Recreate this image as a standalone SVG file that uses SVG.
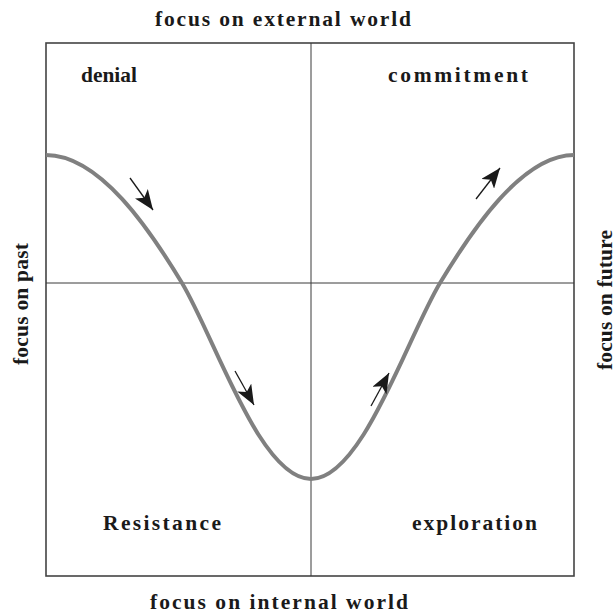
<svg xmlns="http://www.w3.org/2000/svg" width="616" height="613" viewBox="0 0 616 613">
<defs>
<marker id="ah" viewBox="0 0 20 16" refX="20" refY="8" markerWidth="20" markerHeight="16" markerUnits="userSpaceOnUse" orient="auto">
<path d="M0,0 L20,8 L0,16 L5,8 Z" fill="#1a1a1a"/>
</marker>
</defs>
<style>
.t{font-family:"Liberation Serif","Times New Roman",serif;font-weight:bold;font-size:21.5px;fill:#1a1a1a}
.ax{stroke:#3a3a3a;stroke-width:1;fill:none}
.arr{stroke:#1a1a1a;stroke-width:1.3;fill:none;marker-end:url(#ah)}
</style>
<rect width="616" height="613" fill="#fff"/>
<g id="frame">
<rect x="46" y="43" width="528" height="533" fill="none" stroke="#444" stroke-width="1.6"/>
</g>
<g id="axes">
<line class="ax" x1="311" y1="43" x2="311" y2="576"/>
<line class="ax" x1="46" y1="283" x2="574" y2="283"/>
</g>
<g id="curve">
<path d="M46,155 C100,155 150,230 182,283 C215,338 260,479 311,479 C362,479 407,338 440,283 C472,230 522,155 574,155" fill="none" stroke="#808080" stroke-width="4"/>
</g>
<g id="connectors">
<line class="arr" x1="130" y1="178" x2="153" y2="210"/>
<line class="arr" x1="235" y1="371" x2="254" y2="405"/>
<line class="arr" x1="371" y1="406" x2="389" y2="373"/>
<line class="arr" x1="476" y1="199" x2="500" y2="168"/>
</g>
<g id="labels">
<text class="t" x="155" y="26" textLength="256" lengthAdjust="spacing">focus on  external world</text>
<text class="t" x="150" y="609" textLength="258" lengthAdjust="spacing">focus on  internal world</text>
<text class="t" x="81" y="82" textLength="56" lengthAdjust="spacingAndGlyphs">denial</text>
<text class="t" x="388" y="82" textLength="140" lengthAdjust="spacing">commitment</text>
<text class="t" x="103" y="530" textLength="118" lengthAdjust="spacing">Resistance</text>
<text class="t" x="412" y="530" textLength="125" lengthAdjust="spacing">exploration</text>
<text class="t" transform="translate(28,365) rotate(-90)" textLength="122" lengthAdjust="spacing">focus on  past</text>
<text class="t" transform="translate(612,370) rotate(-90)" textLength="140" lengthAdjust="spacing">focus on  future</text>
</g>
</svg>
